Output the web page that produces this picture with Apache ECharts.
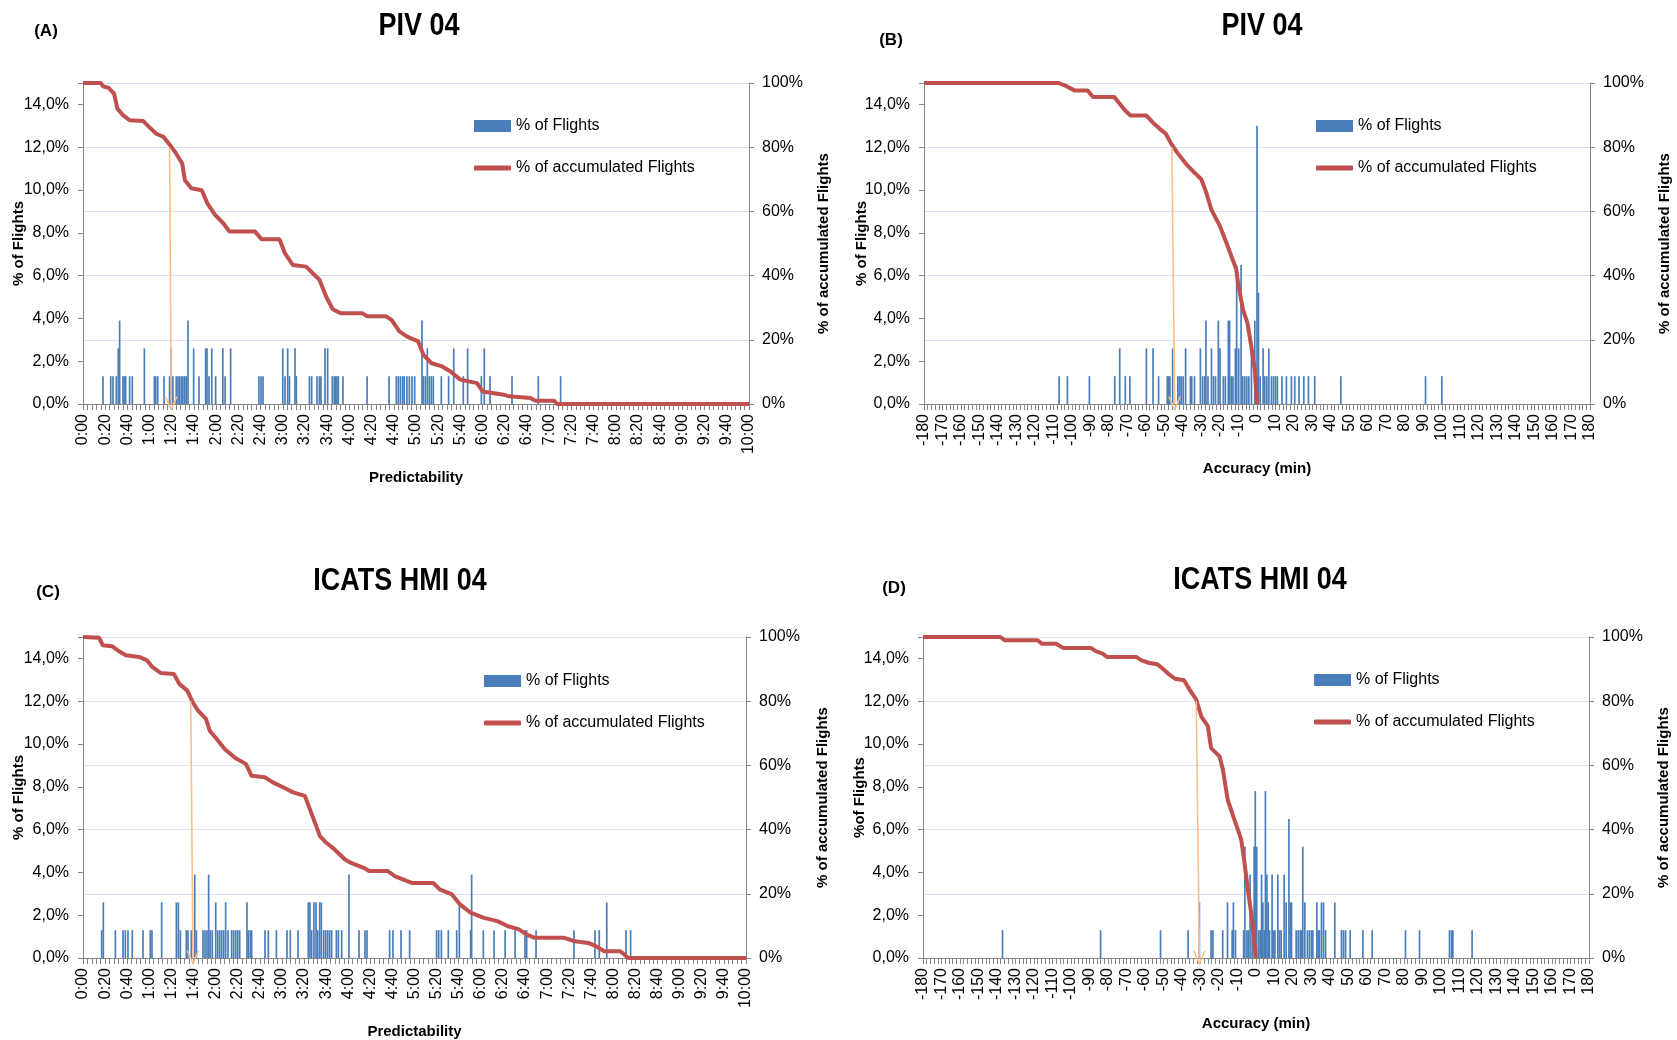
<!DOCTYPE html>
<html><head><meta charset="utf-8">
<script src="https://cdn.jsdelivr.net/npm/echarts@6/dist/echarts.min.js"></script>
<style>html,body{margin:0;padding:0;background:#fff}#c{width:1677px;height:1040px}</style>
</head><body><div id="c"></div>
<script>
// ---------- DATA (minutes, % of flights) ----------
const barsA = [[18,1.3],[25,1.3],[27,1.3],[30,1.3],[31.8,2.6],[33,3.9],[36,1.3],[37.5,1.3],[38.4,1.3],[42,1.3],[44.4,1.3],[55.3,2.6],[64.3,1.3],[65.5,1.3],[67.3,1.3],[73,1.3],[78,1.3],[79.3,2.6],[81,1.3],[84,1.3],[85.6,1.3],[87,1.3],[88.6,1.3],[90,1.3],[91.6,1.3],[93,1.3],[94.6,3.9],[99.7,2.6],[104.5,1.3],[110.5,2.6],[111.7,2.6],[113.5,1.3],[116,2.6],[119.5,1.3],[126,2.6],[128,1.3],[133,2.6],[158.5,1.3],[160.4,1.3],[162.2,1.3],[180,2.6],[182,1.3],[184.4,2.6],[186,1.3],[191,2.6],[192.2,1.3],[204,1.3],[206,1.3],[210.8,1.3],[213,1.3],[214.4,1.3],[218,2.6],[220.4,2.6],[224.6,1.3],[226.4,1.3],[227.6,1.3],[228.8,1.3],[230,1.3],[234.2,1.3],[255.9,1.3],[275.7,1.3],[282.3,1.3],[284.1,1.3],[286,1.3],[288,1.3],[289.4,1.3],[291.8,1.3],[294,1.3],[296.4,1.3],[298.8,1.3],[305.4,3.9],[306.6,1.3],[308.4,1.3],[310.2,2.6],[312,1.3],[313.8,1.3],[315.6,1.3],[322.8,1.3],[329.4,1.3],[334,2.6],[342.6,1.3],[346.5,2.6],[358.9,1.3],[361.5,2.6],[366.7,1.3],[386.5,1.3],[410.2,1.3],[430.3,1.3]];
const cumA = [[0,100],[16,100],[18,99],[23,98.5],[28,96.7],[31,92],[36,90],[42,88.4],[54,88.2],[59,86.5],[66,84.2],[72.6,83.2],[77.4,81.1],[83,78.5],[89.4,74.9],[91.8,69.7],[97.6,67.2],[107,66.6],[112,62.5],[119,58.9],[126.4,56.3],[132,53.7],[155,53.7],[161,51.3],[177,51.3],[182,46.9],[189,43.3],[201,42.8],[213,38.7],[219,33.5],[225,29.5],[232,28.3],[251.5,28.3],[256,27.3],[273,27.3],[278,26.2],[285,22.6],[292,21],[302,19.5],[306.7,15.3],[314,12.7],[323.6,11.7],[330.8,10.2],[340,7.6],[355,6.5],[360,3.9],[379,2.9],[383.7,2.4],[403,1.9],[407.7,1.0],[424.5,1.0],[427,0],[600,0]];
const arrowA = [[78,80],[79.5,0]];

const barsB = [[-107,1.3],[-102.5,1.3],[-90.6,1.3],[-76.9,1.3],[-74.2,2.6],[-71.2,1.3],[-68.7,1.3],[-59.8,2.6],[-56.2,2.6],[-53.2,1.3],[-48.5,1.3],[-47.8,1.3],[-47.1,1.3],[-45.6,2.6],[-42.8,1.3],[-41.9,1.3],[-41,1.3],[-39.9,1.3],[-38.6,2.6],[-36,1.3],[-35.3,1.3],[-33.8,1.3],[-30.6,2.6],[-29.4,1.3],[-28.3,1.3],[-27.6,3.9],[-26.5,1.3],[-24.6,2.6],[-23.5,1.3],[-22.4,1.3],[-20.9,3.9],[-20,2.6],[-18.2,1.3],[-17.1,1.3],[-15.5,3.9],[-14.8,3.9],[-13.9,1.3],[-13,1.3],[-11.7,2.6],[-11,6.5],[-9.9,2.6],[-8.6,6.5],[-7.7,1.3],[-6.6,1.3],[-5.5,1.3],[-4.4,1.3],[-3,2.6],[-1.2,3.9],[0,13.0],[0.8,5.2],[1.7,1.3],[3.3,2.6],[4.2,1.3],[5.3,1.3],[6.4,2.6],[7.8,1.3],[8.9,1.3],[10,1.3],[11,1.3],[13.5,1.3],[15.9,1.3],[18.6,1.3],[20.4,1.3],[22.7,1.3],[25.3,1.3],[27.8,1.3],[31.2,1.3],[45.3,1.3],[91.1,1.3],[99.9,1.3]];
const cumB = [[-180,100],[-107.3,100],[-103,99],[-98.7,97.7],[-91.5,97.7],[-88.6,95.6],[-77.1,95.6],[-74.3,93.6],[-71.4,91.5],[-68.5,89.9],[-59.9,89.9],[-55.6,87.3],[-52.7,85.8],[-49.3,84.2],[-46.4,81.1],[-42.7,78],[-38.4,74.8],[-33.7,72],[-30.1,70],[-27.4,65.8],[-24.7,60.6],[-20.1,55.5],[-16.6,50.3],[-13.9,46.1],[-11.2,42],[-10.3,37.8],[-7.6,29.5],[-5.2,25.3],[-3.1,18],[-1.2,10.8],[0,0]];
const arrowB = [[-46,80],[-44.5,0]];

const barsC = [[16.9,1.3],[18.4,2.6],[29.3,1.3],[36.2,1.3],[38.3,1.3],[40.7,1.3],[44.6,1.3],[54.3,1.3],[60.9,1.3],[62.4,1.3],[71.2,2.6],[84.5,2.6],[86.3,2.6],[88.1,1.3],[93.5,1.3],[95,1.3],[98,1.3],[101.1,3.9],[102.6,1.3],[108.6,1.3],[110.4,1.3],[112.2,1.3],[113.7,3.9],[115.2,1.3],[117,1.3],[120.1,2.6],[121.9,1.3],[123.7,1.3],[125.5,1.3],[127.3,1.3],[129.1,2.6],[131.2,1.3],[134.5,1.3],[136.3,1.3],[138.2,1.3],[140,1.3],[141.8,1.3],[148.4,2.6],[149.6,1.3],[151.4,1.3],[152.6,1.3],[164.7,1.3],[167.7,1.3],[175,1.3],[184.6,1.3],[187.6,1.3],[194.6,1.3],[203.9,2.6],[205.4,2.6],[206.9,1.3],[209,2.6],[210.9,2.6],[212.4,1.3],[214.2,2.6],[215.7,2.6],[217.8,1.3],[219.6,1.3],[221.4,1.3],[223.2,1.3],[225,1.3],[229.3,1.3],[231.1,1.3],[234.1,1.3],[240.7,3.9],[249.8,1.3],[255.2,1.3],[257,1.3],[277.5,1.3],[280.5,1.3],[287.8,1.3],[295.6,1.3],[320,1.3],[321.9,1.3],[324.3,1.3],[330.6,1.3],[338.2,1.3],[340.6,2.6],[350.8,1.3],[351.7,3.9],[362.3,1.3],[372,1.3],[382,1.3],[391,1.3],[400,1.3],[401.5,1.3],[410,1.3],[444.3,1.3],[463.3,1.3],[467.2,1.3],[474,2.6],[491.4,1.3],[495.6,1.3]];
const cumC = [[0,100],[14.5,99.8],[17.9,97.4],[26.6,97.1],[31.5,95.8],[38.7,94.3],[50.8,93.8],[58,92.7],[62.9,90.6],[70.2,88.8],[82.3,88.5],[87.1,85.4],[94.4,83.3],[99.2,79.7],[104,77.1],[111.3,74.5],[114.7,70.8],[121,68.2],[128.2,65.1],[137.9,62.3],[147.6,60.4],[152.4,56.8],[164.5,56.3],[171.8,54.7],[181.5,53.1],[190.2,51.6],[200.8,50.5],[208.1,43.8],[214.4,38],[220.2,35.9],[227.4,33.9],[237.1,30.7],[241.9,29.7],[254,28.1],[258.9,27.1],[275.8,27.1],[282.1,25.5],[292.8,24],[297.6,23.4],[316.9,23.4],[322.8,21.4],[333.9,19.8],[341.2,16.7],[350.8,14.1],[362.9,12.5],[375,11.5],[384.7,9.9],[394.4,8.9],[401.6,7.3],[408.9,6.3],[435.5,6.3],[445.2,5.2],[457.3,4.7],[464.5,3.6],[471.8,2.1],[486.3,2.1],[493.6,0],[600,0]];
const arrowC = [[97.5,80],[99.5,0]];

const barsD = [[-137,1.3],[-84,1.3],[-51.6,1.3],[-36.7,1.3],[-30.6,2.6],[-24.3,1.3],[-23.3,1.3],[-18,1.3],[-15.4,2.6],[-12.9,1.3],[-12.2,2.6],[-11.1,1.3],[-6.7,1.3],[-6,5.2],[-4.9,1.3],[-4.2,1.3],[-3.2,3.9],[-2.1,1.3],[-1,5.2],[-0.4,7.8],[0.4,5.2],[1.5,1.3],[2.3,1.3],[3,3.9],[3.7,2.6],[4.4,1.3],[5.1,7.8],[5.9,3.9],[6.6,2.6],[7.3,1.3],[8.7,3.9],[9.5,1.3],[10.2,1.3],[11.8,3.9],[12.7,1.3],[13.6,1.3],[15.2,3.9],[16.3,2.6],[17.8,6.5],[18.5,2.6],[19.2,2.6],[21.7,1.3],[22.8,1.3],[23.9,1.3],[24.6,1.3],[25.3,5.2],[26.4,2.6],[27.8,1.3],[28.9,1.3],[30,1.3],[30.7,1.3],[32.9,2.6],[33.6,1.3],[34.3,1.3],[35.4,2.6],[36.5,2.6],[37.6,1.3],[42.6,2.6],[46.2,1.3],[47.3,1.3],[48.4,1.3],[50.9,1.3],[57.8,1.3],[62.8,1.3],[80.8,1.3],[88.4,1.3],[104.6,1.3],[105.7,1.3],[106.4,1.3],[116.8,1.3]];
const cumD = [[-180,100],[-138.2,100],[-135.9,99],[-118,99],[-115.8,97.9],[-108,97.9],[-104.3,96.6],[-89.3,96.6],[-86.4,95.5],[-82.9,94.8],[-80.6,93.8],[-64.8,93.8],[-61.9,92.7],[-57.6,91.9],[-53.3,91.5],[-50.4,90.1],[-47.5,88.6],[-43.8,87],[-38.9,86.5],[-35.9,83.6],[-32.3,80.5],[-29.6,75.3],[-26,72.2],[-24.3,65.4],[-19.7,62.8],[-17.9,58.7],[-15.3,49.3],[-11.7,43.1],[-9.8,40],[-8,36.9],[-6.2,29.6],[-4.4,21.3],[-2.1,12],[0,0]];
const arrowD = [[-32.3,80],[-30.6,0]];

const titles = ['PIV 04', 'PIV 04', 'ICATS HMI 04', 'ICATS HMI 04'];
const panelTags = ['(A)', '(B)', '(C)', '(D)'];
const xNames = ['Predictability', 'Accuracy (min)', 'Predictability', 'Accuracy (min)'];
const leftNames = ['% of Flights', '% of Flights', '% of Flights', '%of Flights'];
const rightName = '% of accumulated Flights';
const barName = '% of Flights';
const lineName = '% of accumulated Flights';

// ---------- LAYOUT ----------
const FONT = '"Liberation Sans", Arial, sans-serif';
const panels = [
  {grid:{left:83, top:83, width:666, height:321}, kind:'time', bars:barsA, cum:cumA, arrow:arrowA, xGap:66, lGap:57, rGap:67, leg:[474,117], title:[419,26], tag:[46,31]},
  {grid:{left:924, top:83, width:666, height:321}, kind:'acc', bars:barsB, cum:cumB, arrow:arrowB, xGap:57, lGap:55, rGap:67, leg:[1316,117], title:[1262,26], tag:[891,40]},
  {grid:{left:83, top:637, width:663, height:321}, kind:'time', bars:barsC, cum:cumC, arrow:arrowC, xGap:66, lGap:57, rGap:69, leg:[484,672], title:[400,581], tag:[48,592]},
  {grid:{left:923, top:637, width:666, height:321}, kind:'acc', bars:barsD, cum:cumD, arrow:arrowD, xGap:58, lGap:56, rGap:67, leg:[1314,671], title:[1260,580], tag:[894,588]}
];

const AXC = '#868686';
const arrowHead = 'path://M0,10 L5,0 L10,10 L8.8,10 L5,2.6 L1.2,10 Z';
const grid = [], xAxis = [], yAxis = [], series = [], legend = [], graphic = [];

panels.forEach((p, i) => {
  grid.push(p.grid);
  const isTime = p.kind === 'time';
  xAxis.push({
    type: 'value', gridIndex: i,
    min: isTime ? 0 : -180, max: isTime ? 600 : 180, interval: isTime ? 20 : 10,
    name: xNames[i], nameLocation: 'middle', nameGap: p.xGap, nameMoveOverlap: false,
    nameTextStyle: {fontFamily: FONT, fontWeight: 'bold', fontSize: 15, color: '#000'},
    axisLine: {show: true, onZero: false, lineStyle: {color: AXC, width: 1}},
    axisTick: {show: true, length: 6, lineStyle: {color: AXC}},
    minorTick: {show: true, splitNumber: 5, length: 6, lineStyle: {color: AXC}},
    splitLine: {show: false}, minorSplitLine: {show: false},
    axisLabel: {
      rotate: 90, margin: 10, fontSize: 16, fontFamily: FONT, color: '#000',
      formatter: v => {
        if (!isTime) return String(v);
        const h = Math.floor(v / 60), m = Math.round(v % 60);
        return h + ':' + (m < 10 ? '0' : '') + m;
      }
    }
  });
  yAxis.push({
    type: 'value', gridIndex: i, position: 'left', min: 0, max: 15, interval: 2,
    name: leftNames[i], nameLocation: 'middle', nameGap: p.lGap, nameRotate: 90, nameMoveOverlap: false,
    nameTextStyle: {fontFamily: FONT, fontWeight: 'bold', fontSize: 15, color: '#000'},
    axisLine: {show: true, onZero: false, lineStyle: {color: AXC}},
    axisTick: {show: true, length: 5, lineStyle: {color: AXC}},
    splitLine: {show: false},
    axisLabel: {margin: 14, fontSize: 16, fontFamily: FONT, color: '#000',
      formatter: v => v > 14.5 ? '' : v.toFixed(1).replace('.', ',') + '%'}
  });
  yAxis.push({
    type: 'value', gridIndex: i, position: 'right', min: 0, max: 100, interval: 20,
    name: rightName, nameLocation: 'middle', nameGap: p.rGap, nameRotate: 90, nameMoveOverlap: false,
    nameTextStyle: {fontFamily: FONT, fontWeight: 'bold', fontSize: 15, color: '#000'},
    axisLine: {show: true, onZero: false, lineStyle: {color: AXC}},
    axisTick: {show: true, length: 5, lineStyle: {color: AXC}},
    splitLine: {show: true, lineStyle: {color: '#d6e3f3', width: 1}},
    axisLabel: {margin: 13, fontSize: 16, fontFamily: FONT, color: '#000', formatter: v => v + '%'}
  });
  series.push({
    type: 'bar', name: barName, xAxisIndex: i, yAxisIndex: 2 * i,
    data: p.bars, barWidth: 1.7, itemStyle: {color: '#4a7ebb'}, z: 2
  });
  series.push({
    type: 'line', name: lineName, xAxisIndex: i, yAxisIndex: 2 * i + 1,
    data: p.cum, symbol: 'none', showSymbol: false, z: 4,
    lineStyle: {width: 4, color: '#c0504d'}, itemStyle: {color: '#c0504d'},
    markLine: {
      silent: true, animation: false, symbol: ['none', arrowHead], symbolSize: [13, 15],
      label: {show: false}, lineStyle: {color: '#fbbf8c', width: 1.6, type: 'solid'},
      itemStyle: {color: '#fbbf8c'},
      emphasis: {disabled: true},
      data: [[{coord: p.arrow[0]}, {coord: p.arrow[1]}]]
    }
  });
  legend.push({
    left: p.leg[0], top: p.leg[1], orient: 'vertical', padding: 0,
    itemWidth: 37, itemHeight: 12, selectedMode: false,
    textStyle: {fontFamily: FONT, fontSize: 16, color: '#000', lineHeight: 18},
    data: [{name: barName, icon: 'rect'}]
  });
  legend.push({
    left: p.leg[0], top: p.leg[1] + 42, orient: 'vertical', padding: 0,
    itemWidth: 37, itemHeight: 5, selectedMode: false,
    textStyle: {fontFamily: FONT, fontSize: 16, color: '#000', lineHeight: 18},
    data: [{name: lineName, icon: 'roundRect'}]
  });
  graphic.push({type: 'text', x: p.title[0], y: p.title[1], scaleX: 0.87, scaleY: 1,
    style: {text: titles[i], fill: '#000', font: 'bold 31px ' + FONT, textAlign: 'center', textVerticalAlign: 'middle'}});
  graphic.push({type: 'text', x: p.tag[0], y: p.tag[1],
    style: {text: panelTags[i], fill: '#000', font: 'bold 17px ' + FONT, textAlign: 'center', textVerticalAlign: 'middle'}});
});

const chart = echarts.init(document.getElementById('c'), null, {renderer: 'canvas'});
chart.setOption({
  animation: false, backgroundColor: '#fff',
  grid, xAxis, yAxis, series, legend, graphic
});
</script></body></html>
